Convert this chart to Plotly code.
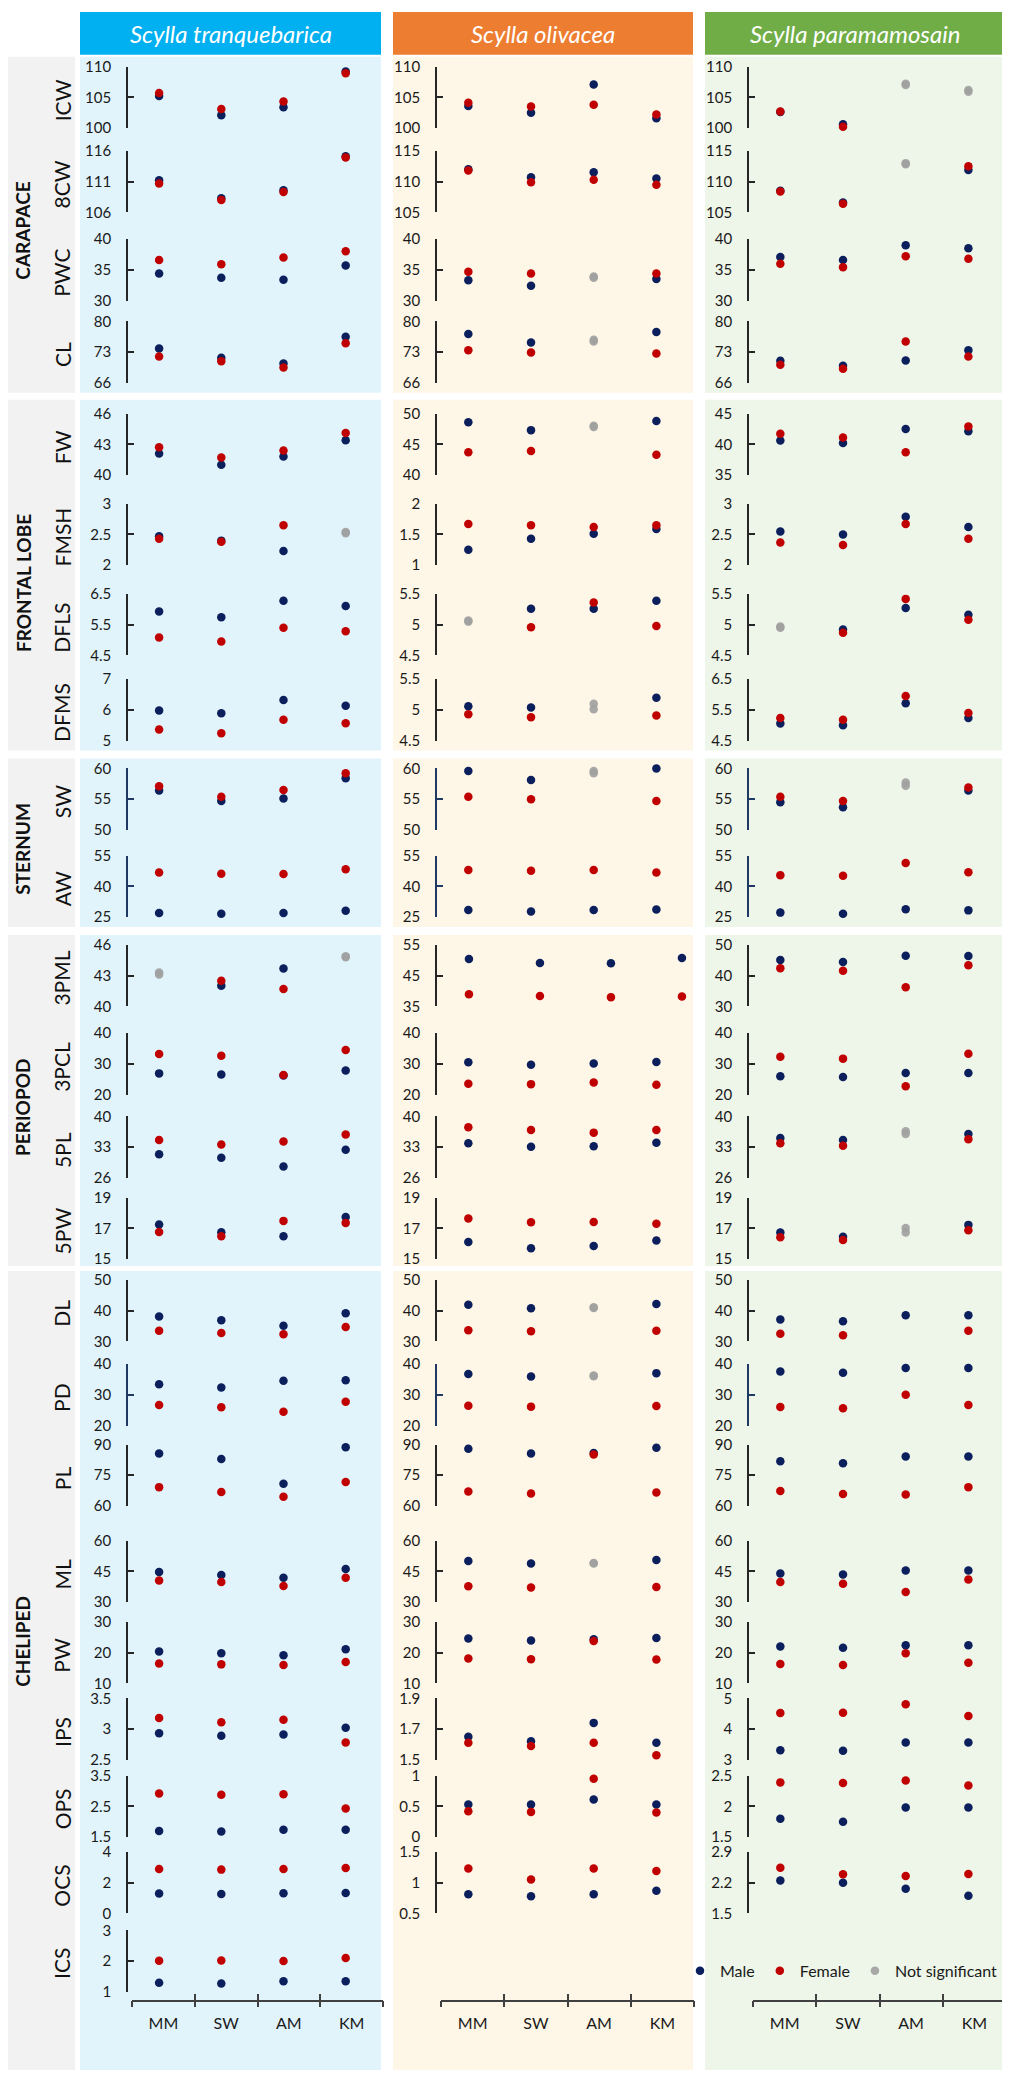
#!/usr/bin/python3

import plotly.graph_objs as go

# ---------------- data ----------------
sites = ['MM', 'SW', 'AM', 'KM']
species = ['Scylla tranquebarica', 'Scylla olivacea', 'Scylla paramamosain']
variables = ['ICW', '8CW', 'PWC', 'CL',
             'FW', 'FMSH', 'DFLS', 'DFMS',
             'SW', 'AW',
             '3PML', '3PCL', '5PL', '5PW',
             'DL', 'PD', 'PL', 'ML', 'PW', 'IPS', 'OPS', 'OCS', 'ICS']
groups = ['CARAPACE', 'FRONTAL LOBE', 'STERNUM', 'PERIOPOD', 'CHELIPED']
group_sizes = [4, 4, 2, 4, 9]

# y tick labels (min, mid, max) per variable
tranq_ticks = [[100, 105, 110], [106, 111, 116], [30, 35, 40], [66, 73, 80],
               [40, 43, 46], [2, 2.5, 3], [4.5, 5.5, 6.5], [5, 6, 7],
               [50, 55, 60], [25, 40, 55],
               [40, 43, 46], [20, 30, 40], [26, 33, 40], [15, 17, 19],
               [30, 40, 50], [20, 30, 40], [60, 75, 90], [30, 45, 60], [10, 20, 30],
               [2.5, 3, 3.5], [1.5, 2.5, 3.5], [0, 2, 4], [1, 2, 3]]
olive_ticks = [[100, 105, 110], [105, 110, 115], [30, 35, 40], [66, 73, 80],
               [40, 45, 50], [1, 1.5, 2], [4.5, 5, 5.5], [4.5, 5, 5.5],
               [50, 55, 60], [25, 40, 55],
               [35, 45, 55], [20, 30, 40], [26, 33, 40], [15, 17, 19],
               [30, 40, 50], [20, 30, 40], [60, 75, 90], [30, 45, 60], [10, 20, 30],
               [1.5, 1.7, 1.9], [0, 0.5, 1], [0.5, 1, 1.5], None]
para_ticks = [[100, 105, 110], [105, 110, 115], [30, 35, 40], [66, 73, 80],
              [35, 40, 45], [2, 2.5, 3], [4.5, 5, 5.5], [4.5, 5.5, 6.5],
              [50, 55, 60], [25, 40, 55],
              [30, 40, 50], [20, 30, 40], [26, 33, 40], [15, 17, 19],
              [30, 40, 50], [20, 30, 40], [60, 75, 90], [30, 45, 60], [10, 20, 30],
              [3, 4, 5], [1.5, 2, 2.5], [1.5, 2.2, 2.9], None]

# means per site (MM, SW, AM, KM)
tranq_male = [[105.2, 102.1, 103.4, 109.2], [111.2, 108.3, 109.6, 115.1],
              [34.4, 33.7, 33.4, 35.7], [73.8, 71.7, 70.4, 76.5],
              [42.1, 41.0, 41.8, 43.4], [2.47, 2.40, 2.23, 2.54],
              [5.93, 5.74, 6.28, 6.11], [5.98, 5.89, 6.32, 6.14],
              [56.4, 54.7, 55.1, 58.4], [27.0, 26.7, 27.0, 28.1],
              [43.3, 42.0, 43.7, 44.9], [26.9, 26.5, 26.2, 27.8],
              [31.4, 30.6, 28.6, 32.4], [17.25, 16.75, 16.49, 17.75],
              [38.1, 36.9, 35.1, 39.2], [33.5, 32.4, 34.6, 34.8],
              [85.6, 82.9, 70.9, 88.7], [44.7, 43.3, 41.9, 46.2],
              [20.4, 19.8, 19.2, 21.1], [2.93, 2.89, 2.91, 3.02],
              [1.70, 1.68, 1.74, 1.74], [1.29, 1.27, 1.31, 1.33],
              [1.29, 1.27, 1.34, 1.34]]
tranq_female = [[105.7, 103.1, 104.3, 108.9], [110.7, 108.0, 109.3, 114.9],
                [36.6, 35.9, 37.0, 38.0], [72.0, 70.9, 69.5, 75.0],
                [42.7, 41.7, 42.4, 44.1], [2.43, 2.38, 2.65, 2.52],
                [5.08, 4.95, 5.40, 5.29], [5.36, 5.24, 5.68, 5.57],
                [57.1, 55.4, 56.5, 59.2], [46.8, 46.2, 46.0, 48.4],
                [43.1, 42.5, 41.7, 44.8], [33.2, 32.6, 26.4, 34.5],
                [34.6, 33.6, 34.3, 35.9], [16.77, 16.49, 17.49, 17.36],
                [33.5, 32.7, 32.3, 34.7], [26.7, 26.0, 24.5, 27.8],
                [69.2, 66.8, 64.5, 71.7], [40.6, 39.8, 37.9, 41.9],
                [16.5, 16.2, 16.0, 17.0], [3.18, 3.11, 3.15, 2.78],
                [2.92, 2.88, 2.89, 2.43], [2.89, 2.85, 2.89, 2.96],
                [2.01, 2.02, 2.00, 2.10]]
tranq_ns = {'FMSH': ['KM'], '3PML': ['MM', 'KM']}

olive_male = [[103.6, 102.5, 107.1, 101.6], [112.0, 110.7, 111.5, 110.5],
              [33.3, 32.4, 33.9, 33.5], [77.1, 75.2, 75.8, 77.6],
              [48.6, 47.3, 48.0, 48.8], [1.25, 1.43, 1.51, 1.59],
              [5.07, 5.26, 5.26, 5.39], [5.06, 5.04, 5.10, 5.20],
              [59.6, 58.1, 59.6, 60.0], [28.5, 27.7, 28.5, 28.7],
              [50.4, 49.1, 49.0, 50.7], [30.5, 29.7, 30.1, 30.6],
              [33.9, 33.1, 33.2, 34.0], [16.12, 15.71, 15.86, 16.21],
              [41.9, 40.8, 41.1, 42.2], [36.8, 36.0, 36.3, 37.1],
              [87.9, 85.6, 85.9, 88.4], [50.1, 48.9, 49.1, 50.6],
              [24.6, 24.0, 24.4, 24.8], [1.65, 1.62, 1.74, 1.61],
              [0.53, 0.53, 0.61, 0.53], [0.81, 0.78, 0.81, 0.87],
              None]
olive_female = [[104.1, 103.5, 103.8, 102.2], [111.8, 109.9, 110.3, 109.5],
                [34.7, 34.4, 33.7, 34.4], [73.4, 72.9, 75.4, 72.7],
                [43.7, 43.9, 47.8, 43.3], [1.67, 1.65, 1.62, 1.65],
                [5.05, 4.96, 5.36, 4.98], [4.93, 4.88, 5.01, 4.91],
                [55.4, 55.0, 59.2, 54.7], [48.0, 47.6, 48.0, 46.8],
                [38.9, 38.4, 38.0, 38.2], [23.5, 23.4, 23.9, 23.2],
                [37.5, 36.9, 36.3, 36.9], [17.64, 17.40, 17.42, 17.31],
                [33.6, 33.3, 40.9, 33.5], [26.5, 26.2, 36.1, 26.4],
                [67.1, 66.1, 85.1, 66.6], [37.7, 37.2, 48.9, 37.4],
                [18.1, 17.9, 23.8, 17.8], [1.61, 1.59, 1.61, 1.53],
                [0.42, 0.41, 0.95, 0.40], [1.23, 1.05, 1.23, 1.19],
                None]
olive_ns = {'PWC': ['AM'], 'CL': ['AM'], 'FW': ['AM'], 'DFLS': ['MM'],
            'DFMS': ['AM'], 'SW': ['AM'], 'DL': ['AM'], 'PD': ['AM'], 'ML': ['AM']}

para_male = [[102.6, 100.6, 107.2, 106.2], [108.5, 106.6, 113.0, 111.9],
             [37.1, 36.6, 39.0, 38.5], [71.0, 69.9, 71.1, 73.4],
             [40.6, 40.2, 42.5, 42.1], [2.55, 2.50, 2.79, 2.62],
             [4.97, 4.92, 5.27, 5.16], [5.06, 5.00, 5.72, 5.24],
             [54.5, 53.7, 57.7, 56.4], [27.2, 26.7, 28.8, 28.3],
             [45.1, 44.4, 46.5, 46.4], [26.0, 25.7, 27.0, 27.0],
             [35.1, 34.6, 36.6, 36.0], [16.73, 16.46, 17.03, 17.23],
             [37.1, 36.6, 38.5, 38.5], [37.6, 37.2, 38.8, 38.8],
             [81.8, 80.8, 84.1, 84.2], [44.0, 43.5, 45.5, 45.5],
             [22.0, 21.6, 22.4, 22.4], [3.31, 3.29, 3.56, 3.56],
             [1.80, 1.75, 1.98, 1.98], [2.25, 2.20, 2.06, 1.90],
             None]
para_female = [[102.7, 100.2, 107.0, 105.9], [108.4, 106.4, 112.8, 112.5],
               [36.0, 35.4, 37.2, 36.8], [70.1, 69.2, 75.4, 72.0],
               [41.7, 41.1, 38.7, 42.9], [2.37, 2.33, 2.67, 2.43],
               [4.95, 4.87, 5.42, 5.08], [5.24, 5.18, 5.95, 5.40],
               [55.4, 54.7, 57.2, 56.9], [45.5, 45.2, 51.4, 46.9],
               [42.4, 41.6, 36.2, 43.4], [32.3, 31.7, 22.7, 33.3],
               [33.9, 33.3, 36.0, 34.8], [16.42, 16.24, 16.73, 16.88],
               [32.5, 32.0, 29.8, 33.5], [26.1, 25.7, 30.1, 26.7],
               [67.3, 65.9, 65.6, 69.2], [39.8, 39.0, 34.9, 41.0],
               [16.3, 16.0, 19.8, 16.7], [4.52, 4.53, 4.81, 4.42],
               [2.39, 2.38, 2.42, 2.34], [2.54, 2.39, 2.35, 2.40],
               None]
para_ns = {'ICW': ['AM', 'KM'], '8CW': ['AM'], 'DFLS': ['MM'], 'SW': ['AM'],
           '5PL': ['AM'], '5PW': ['AM']}

columns = [(tranq_male, tranq_female, tranq_ns, tranq_ticks),
           (olive_male, olive_female, olive_ns, olive_ticks),
           (para_male, para_female, para_ns, para_ticks)]

# ---------------- look ----------------
W, H = 1010, 2083          # browser window
OFF = 8                    # default page margin around the plot div
FIG_W, FIG_H = W - OFF, H - OFF
FONT = 'Lato'
MALE = '#0B1F5C'
FEMALE = '#C00000'
NS = 'rgba(160,160,160,0.9)'
AXIS = '#262626'
NAVY_AXIS = '#1F3864'
navy_rows = ['SW', 'AW', 'PD']
header_colors = ['#00B0F0', '#ED7D31', '#70AD47']
panel_colors = ['#E1F4FC', '#FEF6E6', '#EEF5E9']

# pixel layout (window coordinates)
row_top = [57, 142, 231, 314, 407, 498, 589, 675, 765, 853, 943, 1032, 1116,
           1198, 1281, 1366, 1447, 1544, 1626, 1703, 1781, 1858, 1937]
AXIS_H = 62
group_band = [(47, 386), (393, 747), (755, 925), (933, 1267), (1272, 2078)]
col_axis_x = [128, 437, 749]
col_right = [383, 694, 1006]
panel_x = [(80, 381), (393, 693), (705, 1005)]
XAXIS_Y = 2007
x_range = [-0.5, 3.6]
x_range_override = {(1, '3PML'): [-0.45, 3.17]}


def fx(p):
    return min((p - OFF) / FIG_W, 1.0)


def fy(p):
    return 1 - (p - OFF) / FIG_H


def label(text, x, y, size, angle=0, color='#111111'):
    return dict(text=text, xref='paper', yref='paper', x=fx(x), y=fy(y),
                xanchor='center', yanchor='middle', textangle=angle, showarrow=False,
                font=dict(family=FONT, size=size, color=color))


fig = go.Figure()
layout = {}
shapes = []
annotations = []
shown = set()
n = 0


def add_points(xs, ys, color, name, k):
    fig.add_trace(go.Scatter(
        x=xs, y=ys, mode='markers', name=name, legendgroup=name,
        showlegend=name not in shown,
        marker=dict(color=color, size=8.5),
        xaxis='x' + k, yaxis='y' + k, cliponaxis=False, hoverinfo='skip'))
    shown.add(name)


for c, (male, female, ns, ticks) in enumerate(columns):
    for r, var in enumerate(variables):
        if male[r] is None:
            continue
        n += 1
        k = '' if n == 1 else str(n)
        flags = ns.get(var, [])
        sig = [i for i, s in enumerate(sites) if s not in flags]
        off = [i for i, s in enumerate(sites) if s in flags]

        if sig:
            add_points([sites[i] for i in sig], [male[r][i] for i in sig], MALE, 'Male', k)
            add_points([sites[i] for i in sig], [female[r][i] for i in sig], FEMALE, 'Female', k)
        if off:
            add_points([sites[i] for i in off for _ in (0, 1)],
                       [v for i in off for v in (male[r][i], female[r][i])],
                       NS, 'Not significant', k)

        lc = NAVY_AXIS if var in navy_rows else AXIS
        t = ticks[r]
        layout['xaxis' + k] = dict(
            domain=[fx(col_axis_x[c]), fx(col_right[c])], anchor='y' + k,
            type='category', categoryorder='array', categoryarray=sites,
            range=x_range_override.get((c, var), x_range), visible=False)
        layout['yaxis' + k] = dict(
            domain=[fy(row_top[r] + AXIS_H), fy(row_top[r])], anchor='x' + k,
            range=[t[0], t[2]], tickvals=t, ticktext=['%g' % v for v in t],
            showline=True, linecolor=lc, linewidth=1.6,
            ticks='inside', ticklen=6, tickwidth=1.6, tickcolor=lc,
            showgrid=False, zeroline=False, ticklabelstandoff=12,
            tickfont=dict(family=FONT, size=15, color='#1a1a1a'))

    # bottom site axis for this column
    n += 1
    k = str(n)
    fig.add_trace(go.Scatter(x=sites, y=[0.5] * 4, mode='markers', marker=dict(opacity=0),
                             showlegend=False, hoverinfo='skip', xaxis='x' + k, yaxis='y' + k))
    base = dict(domain=[fx(col_axis_x[c] + 4), fx(col_right[c])], anchor='y' + k,
                type='category', categoryorder='array', categoryarray=sites,
                range=[-0.5, 3.5], tickson='boundaries', ticklen=6, tickwidth=1.6,
                tickcolor='#404040', showgrid=False, zeroline=False)
    layout['xaxis' + k] = dict(base, ticks='outside', showline=True, linecolor='#404040',
                               linewidth=1.6, ticklabelstandoff=8,
                               tickfont=dict(family=FONT, size=16, color='#1a1a1a'))
    layout['yaxis' + k] = dict(domain=[fy(XAXIS_Y), fy(XAXIS_Y - 4)], anchor='x' + k,
                               range=[0, 1], visible=False)
    n += 1
    k2 = str(n)
    fig.add_trace(go.Scatter(x=sites, y=[0.5] * 4, mode='markers', marker=dict(opacity=0),
                             showlegend=False, hoverinfo='skip', xaxis='x' + k2, yaxis='y' + k))
    layout['xaxis' + k2] = dict(base, overlaying='x' + k, ticks='inside',
                                showticklabels=False, showline=False)

    # header and panel backgrounds
    x0, x1 = panel_x[c]
    shapes.append(dict(type='rect', xref='paper', yref='paper', layer='below',
                       x0=fx(x0), x1=fx(x1), y0=fy(45), y1=fy(2),
                       fillcolor=header_colors[c], line=dict(width=0)))
    annotations.append(label('<i>' + species[c] + '</i>', (x0 + x1) / 2, 24, 24,
                             color='white'))
    for b0, b1 in group_band:
        shapes.append(dict(type='rect', xref='paper', yref='paper', layer='below',
                           x0=fx(x0), x1=fx(x1), y0=fy(b1), y1=fy(b0),
                           fillcolor=panel_colors[c], line=dict(width=0)))

# left column: group boxes, group names and variable names
start = 0
for g, size in enumerate(group_sizes):
    b0, b1 = group_band[g]
    shapes.append(dict(type='rect', xref='paper', yref='paper', layer='below',
                       x0=fx(3), x1=fx(75), y0=fy(b1), y1=fy(b0),
                       fillcolor='#F2F2F2', line=dict(width=0)))
    mid = (row_top[start] + row_top[start + size - 1] + AXIS_H) / 2
    annotations.append(label('<b>' + groups[g] + '</b>', 23, mid + 6, 19, angle=-90))
    start += size

for r, var in enumerate(variables):
    annotations.append(label(var, 62, row_top[r] + AXIS_H / 2 + 3, 21, angle=-90))

layout.update(
    width=FIG_W, height=FIG_H,
    margin=dict(l=0, r=0, t=0, b=0),
    paper_bgcolor='white', plot_bgcolor='rgba(0,0,0,0)',
    shapes=shapes, annotations=annotations, hovermode=False,
    legend=dict(orientation='h', x=fx(1003), xanchor='right', y=fy(1978), yanchor='middle',
                font=dict(family=FONT, size=16, color='#1a1a1a'),
                bgcolor='rgba(0,0,0,0)', itemwidth=30, traceorder='normal'),
)
fig.update_layout(layout)
fig.write_html('out.html')
